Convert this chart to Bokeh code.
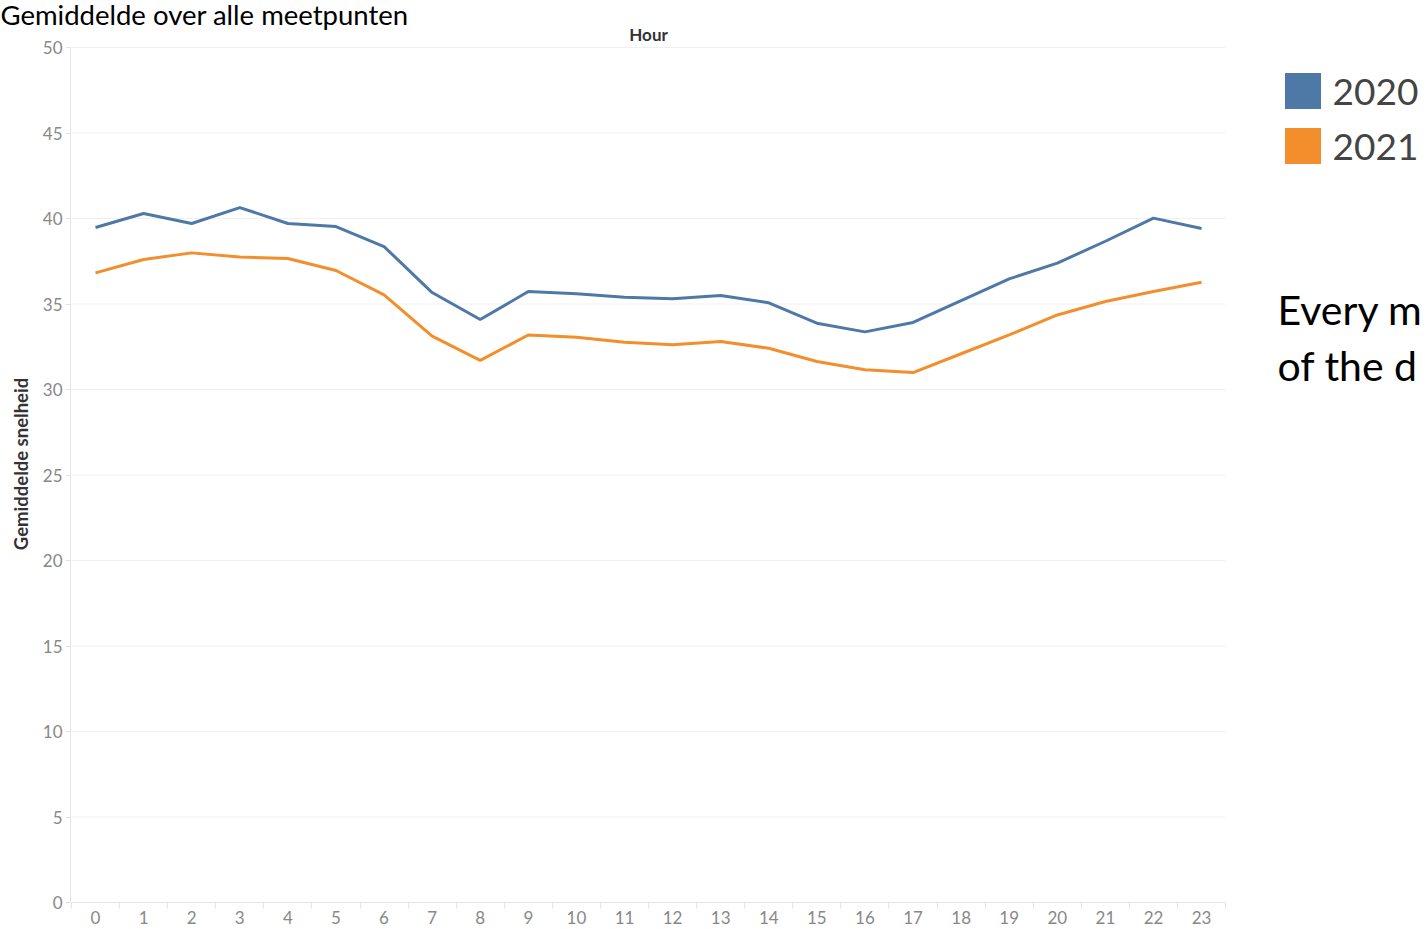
from bokeh.plotting import figure
from bokeh.models import Label, Legend, LegendItem, FixedTicker
from bokeh.embed import file_html
from bokeh.resources import INLINE

# ---- data ----
hours = list(range(24))
speed_2020 = [39.47, 40.29, 39.71, 40.64, 39.71, 39.53, 38.36, 35.67, 34.09, 35.73,
              35.60, 35.40, 35.30, 35.50, 35.07, 33.88, 33.37, 33.92, 35.20, 36.47,
              37.39, 38.67, 40.02, 39.42]
speed_2021 = [36.82, 37.60, 37.99, 37.75, 37.66, 36.96, 35.53, 33.12, 31.70, 33.19,
              33.05, 32.76, 32.61, 32.81, 32.41, 31.64, 31.15, 30.99, 32.09, 33.19,
              34.36, 35.15, 35.73, 36.27]
years = ["2020", "2021"]
colors = ["#4e79a7", "#f28e2b"]
y_ticks = list(range(0, 51, 5))
nan = float("nan")

# ---- layout geometry (pixels) ----
W, H = 1428, 929
LEFT, BOTTOM = 70, 27
TITLE_STANDOFF = -10
FRAME_TOP = 25            # = 2 + title text height (33) + TITLE_STANDOFF
PX_PER_HOUR = 48.09
PX_PER_UNIT = 17.1
x0 = -0.52
x1 = x0 + (W - LEFT) / PX_PER_HOUR
y1 = (H - BOTTOM - FRAME_TOP) / PX_PER_UNIT

p = figure(width=W, height=H, x_range=(x0, x1), y_range=(0, y1),
           output_backend="svg", toolbar_location=None,
           min_border_left=LEFT, min_border_right=0,
           min_border_top=0, min_border_bottom=BOTTOM)
p.outline_line_color = None
p.background_fill_color = "white"
p.border_fill_color = "white"
p.xgrid.grid_line_color = None
p.ygrid.grid_line_color = None

FONT = "Lato"

# horizontal grid lines, limited to the plotting area
p.segment(x0=[-0.5] * (len(y_ticks) - 1), x1=[23.5] * (len(y_ticks) - 1),
          y0=y_ticks[1:], y1=y_ticks[1:], line_color="#f0f0f0", line_width=1,
          level="underlay")

p.line(hours, speed_2020, line_color=colors[0], line_width=3)
p.line(hours, speed_2021, line_color=colors[1], line_width=3)

# x axis
p.xaxis.bounds = (-0.5, 23.5)
p.xaxis.ticker = FixedTicker(ticks=hours, minor_ticks=[h - 0.5 for h in hours + [24]])
p.xaxis.major_tick_line_color = None
p.xaxis.minor_tick_out = 6
p.xaxis.minor_tick_in = 0
p.xaxis.minor_tick_line_color = "#e4e4e4"
p.xaxis.axis_line_color = "#e4e4e4"
p.xaxis.major_label_text_color = "#888888"
p.xaxis.major_label_text_font = FONT
p.xaxis.major_label_text_font_size = "17px"
p.xaxis.major_label_standoff = 2

# y axis
p.yaxis.bounds = (0, 50)
p.yaxis.ticker = FixedTicker(ticks=y_ticks)
p.yaxis.minor_tick_line_color = None
p.yaxis.major_tick_out = 5
p.yaxis.major_tick_in = 0
p.yaxis.major_tick_line_color = "#e4e4e4"
p.yaxis.axis_line_color = "#e4e4e4"
p.yaxis.major_label_text_color = "#888888"
p.yaxis.major_label_text_font = FONT
p.yaxis.major_label_text_font_size = "17px"
p.yaxis.major_label_standoff = 3
p.yaxis.axis_label = "Gemiddelde snelheid"
p.yaxis.axis_label_text_font = FONT
p.yaxis.axis_label_text_font_size = "18.5px"
p.yaxis.axis_label_text_font_style = "bold"
p.yaxis.axis_label_text_color = "#333333"
p.yaxis.axis_label_standoff = 8

# title at the very top-left
p.title.text = "Gemiddelde over alle meetpunten"
p.title.text_font = FONT
p.title.text_font_size = "27.5px"
p.title.text_font_style = "normal"
p.title.text_color = "#000000"
p.title.align = "left"
p.title.offset = -LEFT
p.title.vertical_align = "bottom"
p.title.standoff = TITLE_STANDOFF

# column header
p.add_layout(Label(x=11.5, y=H - BOTTOM - 34, x_units="data", y_units="screen",
                   text="Hour", text_font=FONT, text_font_size="17px",
                   text_font_style="bold", text_color="#333333",
                   text_baseline="middle", text_align="center"))

# legend with square swatches
swatches = [p.quad(left=[nan], right=[nan], top=[nan], bottom=[nan],
                   fill_color=c, line_color=None) for c in colors]
legend = Legend(items=[LegendItem(label=y, renderers=[r]) for y, r in zip(years, swatches)],
                location=(1209.5, H - BOTTOM - 167.5), glyph_width=45, glyph_height=45,
                spacing=10, label_standoff=8, label_height=45,
                label_text_font=FONT, label_text_font_size="37px",
                label_text_color="#444444", label_text_baseline="middle",
                padding=0, margin=0, border_line_color=None, background_fill_alpha=0)
p.add_layout(legend)

# side note (cut off at the page edge, as in the source)
p.add_layout(Label(x=1207, y=H - BOTTOM - 309, x_units="screen", y_units="screen",
                   text="Every m", text_font=FONT, text_font_size="41px",
                   text_color="#000000", text_baseline="alphabetic"))
p.add_layout(Label(x=1207, y=H - BOTTOM - 365, x_units="screen", y_units="screen",
                   text="of the d", text_font=FONT, text_font_size="41px",
                   text_color="#000000", text_baseline="alphabetic"))

open("out.html", "w").write(file_html(p, INLINE))
